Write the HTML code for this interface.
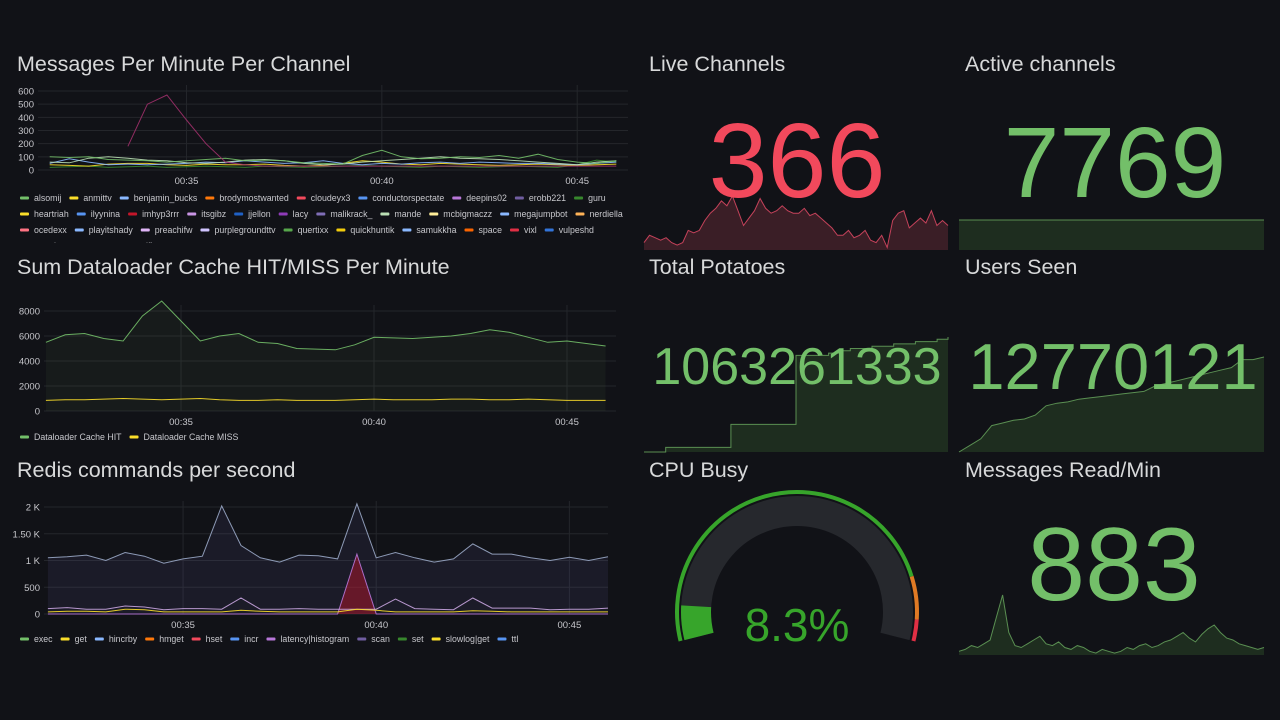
<!DOCTYPE html>
<html><head><meta charset="utf-8">
<style>
body{margin:0;background:#111217;width:1280px;height:720px;overflow:hidden;font-family:"Liberation Sans",sans-serif;}
svg{position:absolute;left:0;top:0}
text{font-family:"Liberation Sans",sans-serif}
.t{fill:#d8d9da;font-size:21.5px}
.ax{fill:#c7c7cc;font-size:9.5px}
.lg{fill:#c7c7cc;font-size:8.8px}
</style></head><body>
<svg id="s" width="1280" height="720"></svg>
<script>
// ---- chart 1 data
const msgTimes=[31.5,32,32.5,33,33.5,34,34.5,35,35.5,36,36.5,37,37.5,38,38.5,39,39.5,40,40.5,41,41.5,42,42.5,43,43.5,44,44.5,45,45.5,46];
const msgAlsomij=[100,95,100,80,75,70,60,70,80,90,70,75,70,55,50,45,110,150,100,85,90,100,95,110,90,120,80,60,50,70];
const msgLacy=[null,null,null,null,180,500,570,380,200,60,40,30,30,30,30,30,30,30,30,30,30,30,30,30,30,30,30,30,30,30];
const msgAnmittv=[40,35,30,45,50,50,40,35,45,40,40,45,35,30,35,50,70,60,45,40,50,45,40,35,40,45,40,35,40,45];
const msgBenjamin=[50,85,60,40,45,40,45,50,60,55,70,60,50,55,70,50,40,50,45,55,60,50,60,55,50,50,45,40,50,60];
const msgMande=[60,55,90,100,90,75,70,55,50,60,75,80,70,50,40,45,60,70,80,90,100,90,85,80,70,60,50,40,60,70];
const msgGuru=[20,25,30,20,25,30,20,25,30,25,20,30,25,20,25,30,35,30,25,20,30,25,20,25,30,25,20,40,75,60];
const msgNames=["alsomij","anmittv","benjamin_bucks","brodymostwanted","cloudeyx3","conductorspectate","deepins02","erobb221","guru","heartriah","ilyynina","imhyp3rrr","itsgibz","jjellon","lacy","malikrack_","mande","mcbigmaczz","megajumpbot","nerdiella","ocedexx","playitshady","preachifw","purplegroundttv","quertixx","quickhuntik","samukkha","space","vixl","vulpeshd","xqcwlotz","zaca","zwolfie"];
const msgTicks=[0,100,200,300,400,500,600];
// ---- chart 2 data
const cacheTimes=[31.5,32,32.5,33,33.5,34,34.5,35,35.5,36,36.5,37,37.5,38,38.5,39,39.5,40,40.5,41,41.5,42,42.5,43,43.5,44,44.5,45,45.5,46];
const cacheHit=[5500,6100,6200,5800,5600,7600,8800,7200,5600,6000,6200,5500,5400,5000,4950,4900,5300,5900,5850,5800,5900,6000,6200,6500,6300,5900,5500,5600,5400,5200];
const cacheMiss=[850,900,900,950,1000,950,900,950,1000,900,850,850,900,850,850,850,900,950,900,900,900,950,950,900,900,950,900,850,850,850];
const cacheTicks=[0,2000,4000,6000,8000];
// ---- chart 3 data
const redisTimes=[31.5,32,32.5,33,33.5,34,34.5,35,35.5,36,36.5,37,37.5,38,38.5,39,39.5,40,40.5,41,41.5,42,42.5,43,43.5,44,44.5,45,45.5,46];
const redisTotal=[1050,1070,1100,1000,1150,1080,950,1030,1080,2020,1280,1050,970,1100,1090,1030,2060,1050,1150,1050,970,1030,1310,1120,1120,1050,1000,1060,1000,1070];
const redisLatency=[0,0,0,0,0,0,0,0,0,0,0,0,0,0,0,0,1120,0,0,0,0,0,0,0,0,0,0,0,0,0];
const redisScan=[100,120,90,90,150,130,80,100,100,90,300,90,90,100,90,90,90,90,280,100,90,80,300,110,110,110,80,90,90,110];
const redisGet=[40,50,50,40,90,80,40,40,40,40,70,50,40,40,40,40,90,70,40,40,40,40,60,50,40,40,40,40,40,40];
const redisNames=["exec","get","hincrby","hmget","hset","incr","latency|histogram","scan","set","slowlog|get","ttl"];
const redisTicks=[0,500,1000,1500,2000];
const redisTickLabels=["0","500","1 K","1.50 K","2 K"];
const timeTicks=[35,40,45];
const timeLabels=["00:35","00:40","00:45"];
// ---- stat sparklines
const liveSpark=[3,6,5,4,5,3,2,3,8,7,8,12,15,17,20,18,22,16,10,13,16,21,17,15,16,18,16,15,15,17,14,15,13,11,9,6,6,8,5,6,8,4,3,6,1,12,15,16,9,11,13,11,16,10,12,10];
const activeSpark=[10,10,10,10,10,10,10,10,10,10];
const potatoSpark=[0,0,2,2,2,2,2,2,12,12,12,12,12,12,42,42,42,43,44,45,45,46,46,47,47,48,48,49,50];
const usersSpark=[0,5,10,20,22,24,25,28,35,37,38,40,41,42,43,44,45,46,50,52,54,56,58,60,62,64,70,70,72];
const readSpark=[2,3,5,4,6,8,20,32,12,5,4,6,8,10,6,5,7,4,3,5,4,2,1,3,2,1,2,4,3,5,6,4,5,7,8,10,12,9,7,11,14,16,12,9,8,6,5,4,3,4];
const cpuValue=8.3;

const S=document.getElementById('s');const NS='http://www.w3.org/2000/svg';
function el(tag,attrs,parent){const e=document.createElementNS(NS,tag);for(const k in attrs)e.setAttribute(k,attrs[k]);(parent||S).appendChild(e);return e;}
function txt(x,y,str,cls,anchor,name){const e=el('text',{x:x,y:y,class:cls,'text-anchor':anchor||'start'});e.textContent=str;


return e;}
const pal=["#73bf69","#fade2a","#8ab8ff","#ff780a","#f2495c","#5794f2","#b877d9","#705da0","#37872d","#fade2a","#5794f2","#c4162a","#ca95e5","#1f60c4","#8f3bb8","#806eb7","#badfb4","#ffee99","#8ab8ff","#ffb357","#ff7383","#8ab8ff","#e0b5f7","#d0c4ff","#56a64b","#f2cc0c","#8ab8ff","#fa6400","#e02f44","#3274d9"];

function timeChart(o){
  const g=el('g',{});
  const xs=t=>o.x0+(t-o.t0)*(o.x1-o.x0)/(o.t1-o.t0);
  const ys=v=>o.y0-v*(o.y0-o.y1)/o.vmax;
  o.ticks.forEach((v,i)=>{el('line',{x1:o.x0,x2:o.x1,y1:ys(v),y2:ys(v),stroke:'#24262b','stroke-width':1},g);
    txt(o.x0-4,ys(v)+3.5,o.tickLabels?o.tickLabels[i]:String(v),'ax','end','y-tick');});
  timeTicks.forEach((t,i)=>{el('line',{x1:xs(t),x2:xs(t),y1:o.y1-6,y2:o.y0,stroke:'#24262b'},g);
    txt(xs(t),o.y0+14,timeLabels[i],'ax','middle','x-tick');});
  o.series.forEach(s=>{
    let d='',first=null,last=null;
    s.v.forEach((v,i)=>{if(v===null)return;const X=xs(o.times[i]),Y=ys(v);d+=(d?'L':'M')+X.toFixed(1)+','+Y.toFixed(1);if(first===null)first=X;last=X;});
    if(s.fill){const a=el('path',{d:d+'L'+last+','+o.y0+'L'+first+','+o.y0+'Z',fill:s.fill,stroke:'none'},g);
      }
    const p=el('path',{d:d,fill:'none',stroke:s.c,'stroke-width':1,opacity:0.9},g);
    
    
  });
}
function legend(names,x,y,maxX,rowH){let cx=x,cy=y;names.forEach((n,i)=>{
  const t=txt(0,0,n,'lg','start','legend-entry');
  const tw=t.getComputedTextLength();const w=14+tw+8;
  if(cx+14+tw>maxX){cx=x;cy+=rowH;}
  t.setAttribute('x',cx+14);t.setAttribute('y',cy+1);
  const r=el('rect',{x:cx,y:cy-3.5,width:9,height:3,rx:1,fill:pal[i%pal.length]});
  
  cx+=w;});}

// Panel titles
txt(17,71,'Messages Per Minute Per Channel','t','start','panel-title-messages');
txt(17,274,'Sum Dataloader Cache HIT/MISS Per Minute','t','start','panel-title-cache');
txt(17,477,'Redis commands per second','t','start','panel-title-redis');
txt(649,71,'Live Channels','t','start','panel-title-live');
txt(965,71,'Active channels','t','start','panel-title-active');
txt(649,274,'Total Potatoes','t','start','panel-title-potatoes');
txt(965,274,'Users Seen','t','start','panel-title-users');
txt(649,477,'CPU Busy','t','start','panel-title-cpu');
txt(965,477,'Messages Read/Min','t','start','panel-title-read');

timeChart({name:'messages-chart',x0:38,x1:628,t0:31.2,t1:46.3,y0:170,y1:91,vmax:600,ticks:msgTicks,times:msgTimes,
 series:[{n:'guru',v:msgGuru,c:pal[8]},{n:'anmittv',v:msgAnmittv,c:pal[1]},{n:'benjamin',v:msgBenjamin,c:pal[2]},{n:'mande',v:msgMande,c:pal[16]},{n:'alsomij',v:msgAlsomij,c:pal[0]},{n:'lacy',v:msgLacy,c:'#a0306a'}]});
legend(msgNames,20,200,628,16);
// clipping strip for cut-off legend row
const cut=el('rect',{x:0,y:243,width:640,height:8,fill:'#111217'});

timeChart({name:'cache-chart',x0:44,x1:616,t0:31.45,t1:46.27,y0:411,y1:311,vmax:8000,ticks:cacheTicks,times:cacheTimes,
 series:[{n:'hit',v:cacheHit,c:'#73bf69',fill:'rgba(115,191,105,0.06)'},{n:'miss',v:cacheMiss,c:'#fade2a'}]});
legend(['Dataloader Cache HIT','Dataloader Cache MISS'],20,439,628,16);

timeChart({name:'redis-chart',x0:44,x1:608,t0:31.4,t1:46.0,y0:614,y1:507,vmax:2000,ticks:redisTicks,tickLabels:redisTickLabels,times:redisTimes,
 series:[{n:'total',v:redisTotal,c:'#9aa9c6',fill:'rgba(120,110,200,0.10)'},{n:'latency',v:redisLatency,c:'#b877d9',fill:'rgba(196,22,42,0.45)'},{n:'scan',v:redisScan,c:'#c9a5e0'},{n:'get',v:redisGet,c:'#fade2a'}]});
legend(redisNames,20,641,628,16);

// Stat panels
function spark(name,arr,x0,x1,yb,yt,vmax,stroke,fill,step){
  const xs=i=>x0+i*(x1-x0)/(arr.length-1);const ys=v=>yb-v*(yb-yt)/vmax;
  let d='';arr.forEach((v,i)=>{if(step&&i>0)d+='L'+xs(i).toFixed(1)+','+ys(arr[i-1]).toFixed(1);d+=(d?'L':'M')+xs(i).toFixed(1)+','+ys(v).toFixed(1);});
  const a=el('path',{d:d+'L'+x1+','+yb+'L'+x0+','+yb+'Z',fill:fill,stroke:'none'});
  
  
  const p=el('path',{d:d,fill:'none',stroke:stroke,'stroke-width':1});
  
  
}
spark('live-sparkline',liveSpark,644,948,250,196,22,'#c4425a','#3a1e26',false);
spark('active-sparkline',activeSpark,959,1264,250,220,10,'#5a8f52','#1e2d1f',false);
spark('potatoes-sparkline',potatoSpark,644,948,452,337,50,'#5a8f52','#1e2d1f',true);
spark('users-sparkline',usersSpark,959,1264,452,357,72,'#5a8f52','#1e2d1f',false);
spark('read-sparkline',readSpark,959,1264,655,595,32,'#5a8f52','#1e2d1f',false);

function big(x,y,str,size,color,name){const t=txt(x,y,str,'','middle',name);t.setAttribute('style','font-size:'+size+'px;fill:'+color);}
big(797,197,'366',106,'#f2495c','live-value');
big(1115,197,'7769',100,'#73bf69','active-value');
big(797,384,'1063261333',52,'#73bf69','potatoes-value');
big(1113,389,'12770121',65,'#73bf69','users-value');
big(1114,600,'883',104,'#73bf69','read-value');

// gauge
const cx=797,cy=612,a0=194,a1=-14;
function pt(r,a){const rad=a*Math.PI/180;return [cx+r*Math.cos(rad),cy-r*Math.sin(rad)];}
function arc(r,aS,aE,color,w,name){const p=pt(r,aS),q=pt(r,aE);const large=(aS-aE)>180?1:0;
  const e=el('path',{d:`M${p[0]},${p[1]}A${r},${r} 0 ${large} 1 ${q[0]},${q[1]}`,fill:'none',stroke:color,'stroke-width':w});
  
  }
const sweep=a0-a1;
arc(120,a0,a0-sweep*0.85,'#37a52b',4,'gauge-threshold-green');
arc(120,a0-sweep*0.85,a0-sweep*0.95,'#e07a24',4,'gauge-threshold-orange');
arc(120,a0-sweep*0.95,a1,'#e02f44',4,'gauge-threshold-red');
arc(101,a0,a1,'#26282d',30,'gauge-track');
arc(101,a0,a0-sweep*cpuValue/100,'#37a52b',30,'gauge-value-arc');
big(797,641,cpuValue+'%',46,'#37a52b','cpu-value');
</script>
</body></html>
